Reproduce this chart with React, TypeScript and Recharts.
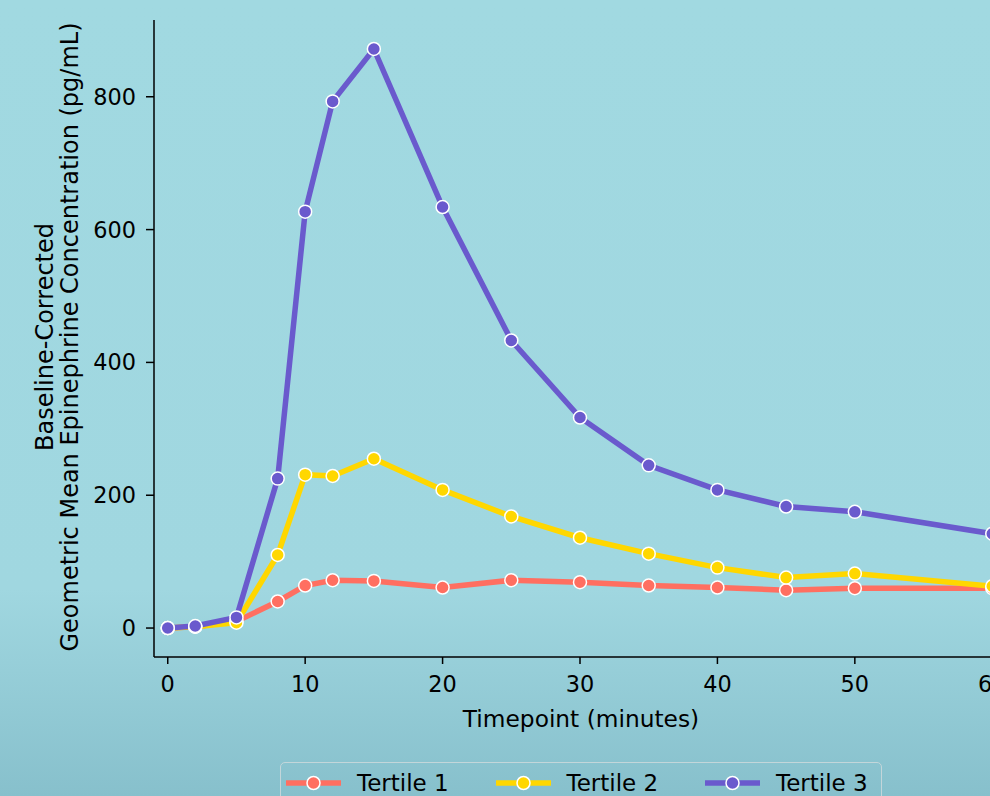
import React from 'react';
import { LineChart, Line, XAxis, YAxis, Legend } from 'recharts';

const timepoints = [0, 2, 5, 8, 10, 12, 15, 20, 25, 30, 35, 40, 45, 50, 60];
const tertile1 = [0, 2, 10, 40, 64, 72, 71, 61, 72, 69, 64, 61, 57, 60, 60];
const tertile2 = [0, 2, 8, 110, 231, 229, 255, 208, 168, 136, 112, 91, 76, 82, 63];
const tertile3 = [0, 3, 16, 225, 627, 793, 872, 634, 433, 317, 245, 208, 183, 175, 142];
const xTicks = [0, 10, 20, 30, 40, 50, 60];
const yTicks = [0, 200, 400, 600, 800];

const seriesNames = ['Tertile 1', 'Tertile 2', 'Tertile 3'];
const seriesColors = ['#ff6f61', '#ffd700', '#6a5acd'];

const data = timepoints.map((t, i) => ({
  t,
  s1: tertile1[i],
  s2: tertile2[i],
  s3: tertile3[i],
}));

const FONT = '"DejaVu Sans", sans-serif';

const YLabel = (props: any) => {
  const vb = props.viewBox || { x: 0, y: 20, width: 154, height: 637 };
  const cy = vb.y + vb.height / 2 - 1.5;
  return (
    <text
      transform={`translate(53, ${cy}) rotate(-90)`}
      textAnchor="middle"
      fontFamily={FONT}
      fontSize={24}
      fill="#000"
    >
      <tspan x={0} dy={0}>Baseline-Corrected</tspan>
      <tspan x={0} dy={25}>Geometric Mean Epinephrine Concentration (pg/mL)</tspan>
    </text>
  );
};

const XLabel = (props: any) => {
  const vb = props.viewBox || { x: 154, y: 657, width: 852, height: 60 };
  return (
    <text
      x={vb.x + vb.width / 2 + 1}
      y={vb.y + 70}
      textAnchor="middle"
      fontFamily={FONT}
      fontSize={23.3}
      fill="#000"
    >
      Timepoint (minutes)
    </text>
  );
};

const LegendContent = () => (
  <div
    style={{
      boxSizing: 'border-box',
      width: 602,
      height: 60,
      border: '1.5px solid #c3d6da',
      borderRadius: 5,
      paddingTop: 7,
      paddingLeft: 5,
      display: 'flex',
      alignItems: 'flex-start',
      fontFamily: FONT,
      fontSize: 23,
      color: '#000',
      lineHeight: '26px',
    }}
  >
    {seriesNames.map((name, i) => (
      <div
        key={name}
        style={{ display: 'flex', alignItems: 'center', height: 26, width: 209.5, flex: '0 0 209.5px' }}
      >
        <svg width={55} height={22} style={{ display: 'block' }}>
          <line x1={0} y1={11} x2={55} y2={11} stroke={seriesColors[i]} strokeWidth={5.5} />
          <circle cx={27.5} cy={11} r={6.5} fill={seriesColors[i]} stroke="#fff" strokeWidth={1.5} />
        </svg>
        <span style={{ marginLeft: 16, whiteSpace: 'nowrap' }}>{name}</span>
      </div>
    ))}
  </div>
);

export default function App() {
  const keys = ['s1', 's2', 's3'];
  return (
    <div
      style={{
        position: 'absolute',
        left: 0,
        top: 0,
        width: 990,
        height: 796,
        overflow: 'hidden',
        background: 'linear-gradient(180deg, #a1d9e1 0%, #a0d7e0 74%, #87c0cc 100%)',
      }}
    >
      <LineChart
        width={1040}
        height={796}
        data={data}
        margin={{ top: 20, right: 34, left: 0, bottom: 79 }}
      >
        <XAxis
          dataKey="t"
          type="number"
          domain={[-1, 61]}
          ticks={xTicks}
          allowDataOverflow
          height={60}
          tickSize={7}
          tickMargin={12}
          stroke="#000"
          axisLine={{ stroke: '#000', strokeWidth: 1.5 }}
          tickLine={{ stroke: '#000', strokeWidth: 1.5 }}
          tick={{ fill: '#000', fontSize: 22.4, fontFamily: FONT }}
          label={<XLabel />}
        />
        <XAxis
          xAxisId="top"
          orientation="top"
          dataKey="t"
          type="number"
          domain={[-1, 61]}
          height={0}
          tick={false}
          tickLine={false}
          axisLine={{ stroke: '#000', strokeWidth: 1.5 }}
        />
        <YAxis
          type="number"
          domain={[-43.6, 915.6]}
          ticks={yTicks}
          allowDataOverflow
          width={154}
          tickSize={8}
          tickMargin={10}
          axisLine={{ stroke: '#000', strokeWidth: 1.5 }}
          tickLine={{ stroke: '#000', strokeWidth: 1.5 }}
          tick={{ fill: '#000', fontSize: 22.4, fontFamily: FONT }}
          label={<YLabel />}
        />
        <YAxis
          yAxisId="right"
          orientation="right"
          width={0}
          domain={[-43.6, 915.6]}
          tick={false}
          tickLine={false}
          axisLine={{ stroke: '#000', strokeWidth: 1.5 }}
        />
        <Legend
          layout="horizontal"
          verticalAlign="middle"
          align="center"
          content={<LegendContent />}
          wrapperStyle={{ position: 'absolute', left: 280, top: 762, width: 602, height: 60 }}
        />
        {keys.map((k, i) => (
          <Line
            key={k}
            dataKey={k}
            name={seriesNames[i]}
            type="linear"
            stroke={seriesColors[i]}
            strokeWidth={5.5}
            dot={{ r: 6.5, fill: seriesColors[i], stroke: '#fff', strokeWidth: 1.5 }}
            activeDot={false}
            isAnimationActive={false}
          />
        ))}
      </LineChart>
    </div>
  );
}
